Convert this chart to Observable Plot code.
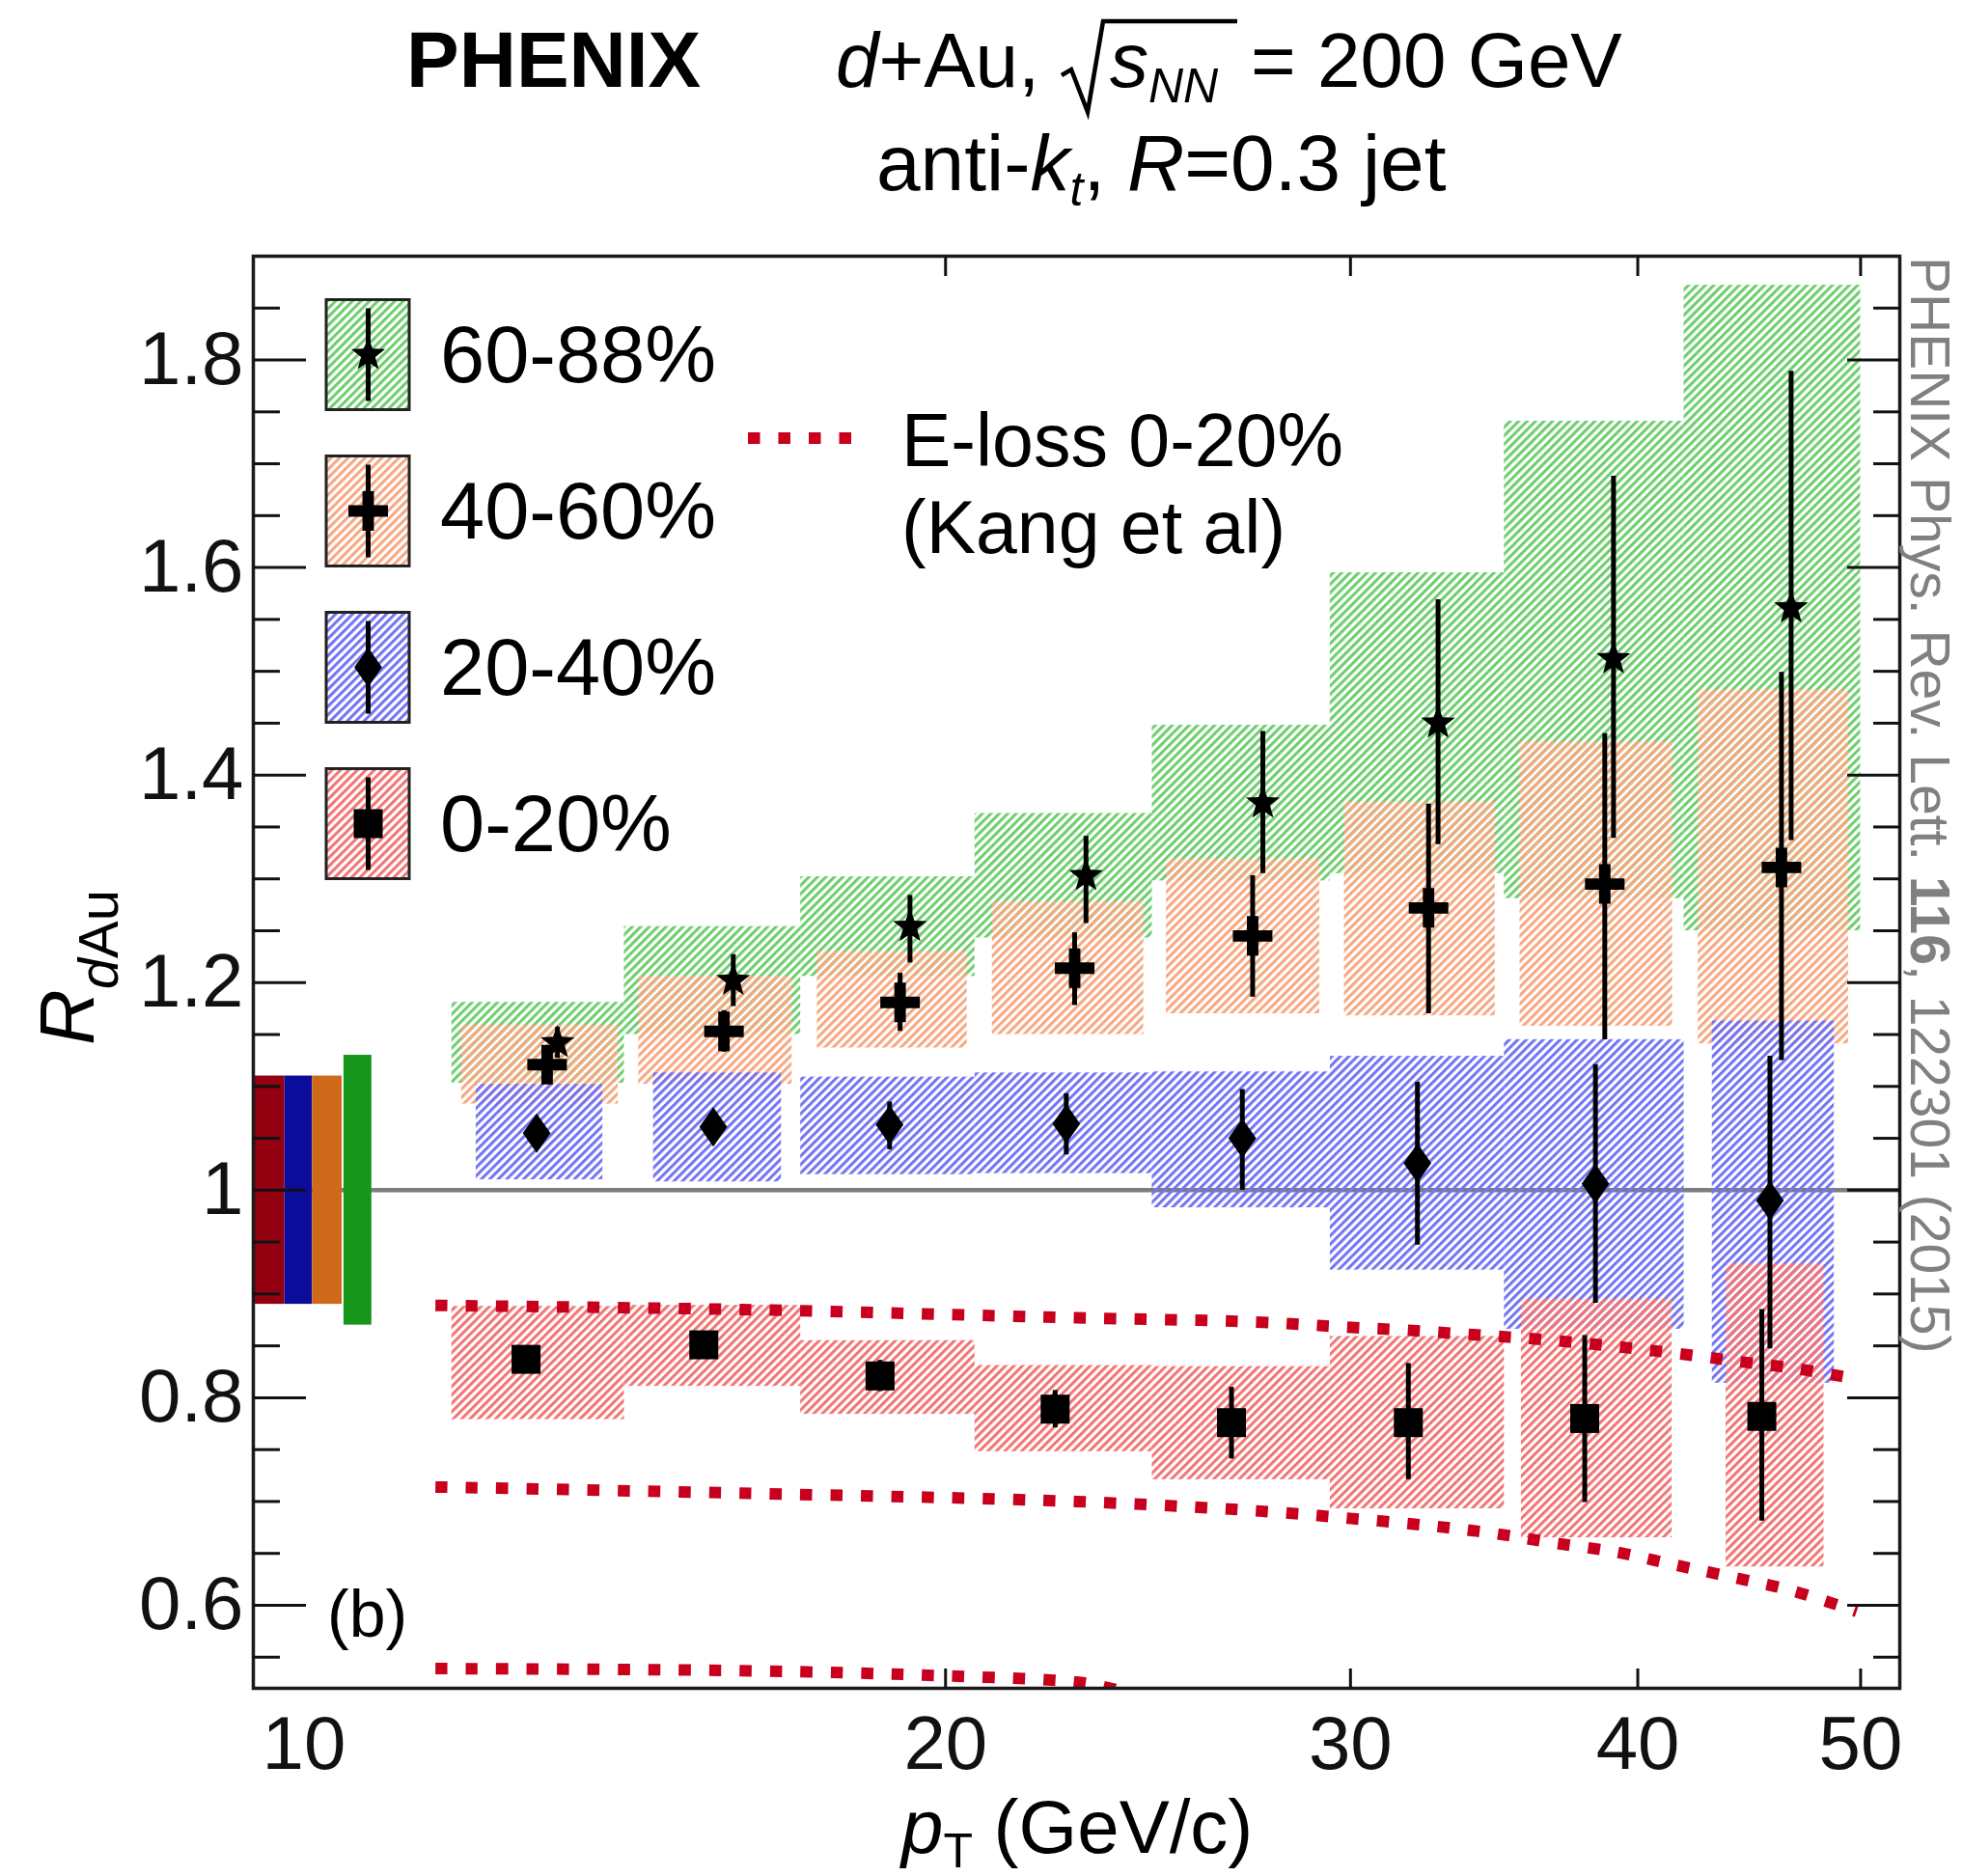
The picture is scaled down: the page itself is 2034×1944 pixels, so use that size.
<!DOCTYPE html>
<html><head><meta charset="utf-8">
<script src="https://cdn.jsdelivr.net/npm/d3@7"></script>
<script src="https://cdn.jsdelivr.net/npm/@observablehq/plot@0.6"></script>
<style>
html,body{margin:0;padding:0;background:#fff;}
#chart{position:relative;width:2034px;height:1944px;}
svg{display:block;}
</style></head><body><div id="chart"></div>
<script>
// ---------------- DATA ----------------
const ptEdges = [12.2, 14.5, 17.3, 20.6, 24.6, 29.4, 35.0, 41.9, 50.0];

// 0-20% (squares)
const c0020_pt     = [13.14, 15.70, 18.73, 22.32, 26.63, 31.79, 37.93, 45.29];
const c0020_R      = [0.837, 0.851, 0.821, 0.789, 0.776, 0.776, 0.780, 0.782];
const c0020_statLo = [0.828, 0.842, 0.806, 0.771, 0.741, 0.721, 0.699, 0.681];
const c0020_statHi = [0.846, 0.860, 0.836, 0.807, 0.810, 0.833, 0.860, 0.885];
const c0020_sysLo  = [0.779, 0.811, 0.784, 0.748, 0.721, 0.693, 0.665, 0.637];
const c0020_sysHi  = [0.888, 0.889, 0.855, 0.831, 0.830, 0.859, 0.895, 0.929];
const c0020_boxLo  = [12.2, 14.5, 17.3, 20.6, 24.6, 29.4, 35.6, 43.7];
const c0020_boxHi  = [14.5, 17.3, 20.6, 24.6, 29.4, 35.0, 41.4, 48.2];

// 20-40% (diamonds)
const c2040_pt     = [13.28, 15.85, 18.91, 22.57, 26.92, 32.08, 38.34, 45.66];
const c2040_R      = [1.055, 1.061, 1.063, 1.064, 1.050, 1.026, 1.006, 0.990];
const c2040_statLo = [1.046, 1.052, 1.039, 1.034, 1.000, 0.947, 0.891, 0.847];
const c2040_statHi = [1.064, 1.070, 1.085, 1.093, 1.097, 1.104, 1.121, 1.129];
const c2040_sysLo  = [1.010, 1.008, 1.015, 1.016, 0.983, 0.923, 0.866, 0.814];
const c2040_sysHi  = [1.102, 1.113, 1.109, 1.113, 1.114, 1.129, 1.145, 1.163];
const c2040_boxLo  = [12.5, 14.93, 17.3, 20.6, 24.6, 29.4, 35.0, 43.1];
const c2040_boxHi  = [14.19, 16.97, 20.6, 24.6, 29.4, 35.0, 41.9, 48.7];

// 40-60% (crosses)
const c4060_pt     = [13.42, 16.02, 19.11, 22.76, 27.20, 32.44, 38.70, 46.19];
const c4060_R      = [1.121, 1.153, 1.181, 1.214, 1.245, 1.272, 1.295, 1.311];
const c4060_statLo = [1.106, 1.133, 1.153, 1.178, 1.186, 1.170, 1.145, 1.125];
const c4060_statHi = [1.136, 1.173, 1.209, 1.248, 1.303, 1.372, 1.440, 1.499];
const c4060_sysLo  = [1.083, 1.102, 1.137, 1.150, 1.170, 1.168, 1.158, 1.141];
const c4060_sysHi  = [1.159, 1.206, 1.230, 1.278, 1.319, 1.374, 1.432, 1.482];
const c4060_boxLo  = [12.32, 14.71, 17.59, 20.96, 24.95, 29.82, 35.55, 42.5];
const c4060_boxHi  = [14.41, 17.15, 20.44, 24.39, 29.09, 34.68, 41.42, 49.4];

// 60-88% (stars)
const c6088_pt     = [13.56, 16.17, 19.30, 23.02, 27.48, 32.75, 39.04, 46.64];
const c6088_R      = [1.142, 1.202, 1.254, 1.303, 1.373, 1.450, 1.512, 1.561];
const c6088_statLo = [1.127, 1.177, 1.219, 1.257, 1.305, 1.333, 1.339, 1.337];
const c6088_statHi = [1.157, 1.227, 1.284, 1.341, 1.442, 1.569, 1.688, 1.789];
const c6088_sysLo  = [1.103, 1.150, 1.206, 1.243, 1.298, 1.305, 1.281, 1.250];
const c6088_sysHi  = [1.181, 1.254, 1.302, 1.363, 1.448, 1.595, 1.741, 1.872];
const c6088_boxLo  = [12.2, 14.5, 17.3, 20.6, 24.6, 29.4, 35.0, 41.9];
const c6088_boxHi  = [14.5, 17.3, 20.6, 24.6, 29.4, 35.0, 41.9, 50.0];

// global normalization uncertainty boxes (0-20, 20-40, 40-60, 60-88)
const normLo    = [10.00, 10.32, 10.61, 10.95];
const normHi    = [10.32, 10.61, 10.93, 11.26];
const normHalf  = [0.110, 0.110, 0.110, 0.130];
const normColor = ["#930010", "#0c0c9a", "#cf6a1c", "#16961a"];

// E-loss 0-20% (Kang et al) curves
const eloss1_pt = [12.0, 16.3, 22.8, 27.3, 29.9, 31.8, 33.8, 35.9, 38.1, 40.4, 42.9, 44.2, 46.9, 49.8];
const eloss1_R  = [0.889, 0.885, 0.877, 0.873, 0.868, 0.865, 0.861, 0.857, 0.852, 0.846, 0.839, 0.835, 0.828, 0.818];
const eloss2_pt = [12.0, 16.3, 22.8, 27.3, 29.9, 32.7, 34.7, 36.8, 39.2, 41.5, 44.0, 46.7, 49.8];
const eloss2_R  = [0.714, 0.708, 0.700, 0.691, 0.684, 0.676, 0.669, 0.660, 0.651, 0.639, 0.627, 0.614, 0.594];
const eloss3_pt = [12.0, 16.3, 20.0, 22.8, 23.6, 24.5];
const eloss3_R  = [0.539, 0.537, 0.532, 0.526, 0.520, 0.510];

// axis ticks
const yMajor = [0.6, 0.8, 1.0, 1.2, 1.4, 1.6, 1.8];
const yMinor = [0.55, 0.65, 0.7, 0.75, 0.85, 0.9, 0.95, 1.05, 1.1, 1.15, 1.25, 1.3, 1.35, 1.45, 1.5, 1.55, 1.65, 1.7, 1.75, 1.85];
const xMajor = [20, 30, 40, 50];
const xFirstLabel = [10];

const legendLabels = ["60-88%", "40-60%", "20-40%", "0-20%"];

// ---------------- STYLE ----------------
const hatchColor = {c0020: "#f37272", c2040: "#7272f4", c4060: "#f7a67e", c6088: "#6ccd6c"};
const elossColor = "#c8001e";
const DASH = "12.5,19";

const symSquare = {draw(c, size) { const r = Math.sqrt(size / Math.PI); c.rect(-r, -r, 2 * r, 2 * r); }};
const symDiamond = {draw(c, size) { const r = Math.sqrt(size / Math.PI), w = 0.7 * r;
  c.moveTo(0, -r); c.lineTo(w, 0); c.lineTo(0, r); c.lineTo(-w, 0); c.closePath(); }};
const symCross = {draw(c, size) { const r = Math.sqrt(size / Math.PI), t = 0.29 * r;
  c.moveTo(-t, -r); c.lineTo(t, -r); c.lineTo(t, -t); c.lineTo(r, -t); c.lineTo(r, t); c.lineTo(t, t);
  c.lineTo(t, r); c.lineTo(-t, r); c.lineTo(-t, t); c.lineTo(-r, t); c.lineTo(-r, -t); c.lineTo(-t, -t); c.closePath(); }};
const symStar = {draw(c, size) { const R = Math.sqrt(size / Math.PI), ri = R * 0.42;
  for (let i = 0; i < 10; i++) { const a = -Math.PI / 2 + i * Math.PI / 5, rr = i % 2 ? ri : R;
    const x = rr * Math.cos(a), y = rr * Math.sin(a); if (i) c.lineTo(x, y); else c.moveTo(x, y); }
  c.closePath(); }};

function rows(pt, R, sLo, sHi, yLo, yHi, bLo, bHi) {
  return pt.map((x, i) => ({x, R: R[i], statLo: sLo[i], statHi: sHi[i], sysLo: yLo[i], sysHi: yHi[i], bx1: bLo[i], bx2: bHi[i]}));
}
const series = [
  {key: "c6088", sym: symStar, r: 18.5, data: rows(c6088_pt, c6088_R, c6088_statLo, c6088_statHi, c6088_sysLo, c6088_sysHi, c6088_boxLo, c6088_boxHi)},
  {key: "c4060", sym: symCross, r: 20.5, data: rows(c4060_pt, c4060_R, c4060_statLo, c4060_statHi, c4060_sysLo, c4060_sysHi, c4060_boxLo, c4060_boxHi)},
  {key: "c2040", sym: symDiamond, r: 20.5, data: rows(c2040_pt, c2040_R, c2040_statLo, c2040_statHi, c2040_sysLo, c2040_sysHi, c2040_boxLo, c2040_boxHi)},
  {key: "c0020", sym: symSquare, r: 15, data: rows(c0020_pt, c0020_R, c0020_statLo, c0020_statHi, c0020_sysLo, c0020_sysHi, c0020_boxLo, c0020_boxHi)}
];
const normRows = normLo.map((lo, i) => ({x1: lo, x2: normHi[i], y1: 1 - normHalf[i], y2: 1 + normHalf[i], color: normColor[i]}));
const curve = (pt, R) => pt.map((p, i) => ({pt: p, R: R[i]}));

const FONT = "'Liberation Sans', Arial, Helvetica, sans-serif";
const fmtY = d => String(Math.round(d * 10) / 10);
const tickStyle = {strokeWidth: 3, tickFormat: () => "", label: null};
const lineStyle = {x: "pt", y: "R", stroke: elossColor, strokeWidth: 12, strokeDasharray: DASH, strokeLinecap: "butt", curve: "catmull-rom", clip: true};

const plot = Plot.plot({
  width: 2034, height: 1944,
  marginLeft: 262, marginRight: 66, marginTop: 265, marginBottom: 195,
  style: {fontFamily: FONT, background: "#fff", color: "#111", overflow: "visible"},
  x: {type: "log", domain: [10, 52]},
  y: {domain: [0.52, 1.90]},
  color: {type: "identity"},
  marks: [
    Plot.ruleY([1], {stroke: "#7d7d7d", strokeWidth: 4.5}),
    ...series.map(s => Plot.rect(s.data, {x1: "bx1", x2: "bx2", y1: "sysLo", y2: "sysHi", fill: `url(#hatch-${s.key})`})),
    Plot.rect(normRows, {x1: "x1", x2: "x2", y1: "y1", y2: "y2", fill: "color"}),
    Plot.line(curve(eloss1_pt, eloss1_R), lineStyle),
    Plot.line(curve(eloss2_pt, eloss2_R), lineStyle),
    Plot.line(curve(eloss3_pt, eloss3_R), lineStyle),
    ...series.map(s => Plot.ruleX(s.data, {x: "x", y1: "statLo", y2: "statHi", stroke: "#000", strokeWidth: 5})),
    ...series.map(s => Plot.dot(s.data, {x: "x", y: "R", symbol: s.sym, r: s.r, fill: "#000", stroke: "none"})),
    Plot.frame({stroke: "#1a1a1a", strokeWidth: 3.5}),
    Plot.axisY(yMajor, {anchor: "left", tickSize: -55, ...tickStyle}),
    Plot.axisY(yMinor, {anchor: "left", tickSize: -28, ...tickStyle}),
    Plot.axisY(yMajor, {anchor: "right", tickSize: -55, ...tickStyle}),
    Plot.axisY(yMinor, {anchor: "right", tickSize: -28, ...tickStyle}),
    Plot.axisX(xMajor, {anchor: "bottom", tickSize: -20, ...tickStyle}),
    Plot.axisX(xMajor, {anchor: "top", tickSize: -20, ...tickStyle}),
    Plot.axisY(yMajor, {anchor: "left", tickSize: 0, tickPadding: 10, fontSize: 78, tickFormat: fmtY, label: null}),
    Plot.axisX(xMajor, {anchor: "bottom", tickSize: 0, tickPadding: 28, fontSize: 78, tickFormat: d => String(d), label: null}),
    Plot.text(xFirstLabel, {x: d => d, text: d => String(d), frameAnchor: "bottom", textAnchor: "start", lineAnchor: "top", dy: 28, dx: 9, fontSize: 78})
  ]
});
document.getElementById("chart").appendChild(plot);

// ---------------- decorations (patterns, texts, legend) ----------------
const svg = d3.select(plot);
const defs = svg.insert("defs", ":first-child");
for (const [key, col] of Object.entries(hatchColor)) {
  const p = defs.append("pattern").attr("id", "hatch-" + key).attr("patternUnits", "userSpaceOnUse")
    .attr("width", 6.2).attr("height", 6.2).attr("patternTransform", "rotate(45)");
  p.append("rect").attr("x", 0).attr("y", 0).attr("width", 3.0).attr("height", 6.2).attr("fill", col);
}
const g = svg.append("g").attr("font-family", FONT).attr("fill", "#000").attr("text-anchor", "start");

function addText(x, y, parts, attrs = {}) {
  const t = g.append("text").attr("x", x).attr("y", y).attr("text-anchor", "start");
  for (const [k, v] of Object.entries(attrs)) t.attr(k, v);
  for (const p of parts) {
    const s = t.append("tspan").text(p.t);
    if (p.it) s.attr("font-style", "italic");
    if (p.b) s.attr("font-weight", "bold");
    if (p.fs) s.attr("font-size", p.fs);
    if (p.dy) s.attr("dy", p.dy);
    if (p.dx) s.attr("dx", p.dx);
  }
  return t;
}
// title
addText(421, 90, [{t: "PHENIX", b: true}], {"font-size": 82});
addText(866, 90, [{t: "d", it: true}, {t: "+Au,"}], {"font-size": 80});
// radical
g.append("path").attr("d", "M1100,78 L1110,72 L1127,116 L1143,22 L1282,22").attr("fill", "none").attr("stroke", "#000").attr("stroke-width", 4.5);
addText(1150, 90, [{t: "s", it: true}, {t: "NN", it: true, fs: 50, dy: 16}], {"font-size": 80});
addText(1296, 90, [{t: "= 200 GeV"}], {"font-size": 80});
addText(908, 197, [{t: "anti-"}, {t: "k", it: true}, {t: "t", it: true, fs: 50, dy: 16}, {t: ", ", dy: -16}, {t: "R", it: true}, {t: "=0.3 jet"}], {"font-size": 82});

// axis titles
addText(934, 1920, [{t: "p", it: true}, {t: "T", fs: 50, dy: 15}, {t: " (GeV/c)", dy: -15}], {"font-size": 78});
addText(0, 0, [{t: "R", it: true}, {t: "d", it: true, fs: 58, dy: 25}, {t: "Au", fs: 58}], {"font-size": 80, transform: "translate(97,1083) rotate(-90)"});

// (b)
addText(339, 1696, [{t: "(b)"}], {"font-size": 68});

// right side reference
addText(0, 0, [{t: "PHENIX Phys. Rev. Lett. "}, {t: "116", b: true}, {t: ", 122301 (2015)"}], {"font-size": 57, fill: "#808080", transform: "translate(1980,266) rotate(90)"});

// legend (centralities)
const legSyms = [symStar, symCross, symDiamond, symSquare];
const legR = [18.5, 20.5, 20.5, 15];
const legKeys = ["c6088", "c4060", "c2040", "c0020"];
legendLabels.forEach((lab, i) => {
  const top = 310.5 + i * 162;
  g.append("rect").attr("x", 338).attr("y", top).attr("width", 86).attr("height", 114)
    .attr("fill", `url(#hatch-${legKeys[i]})`).attr("stroke", "#222").attr("stroke-width", 3);
  g.append("line").attr("x1", 381.5).attr("x2", 381.5).attr("y1", top + 9).attr("y2", top + 105).attr("stroke", "#000").attr("stroke-width", 5);
  const path = d3.path(); legSyms[i].draw(path, legR[i] * legR[i] * Math.PI);
  g.append("path").attr("d", path.toString()).attr("transform", `translate(381.5,${top + 57})`).attr("fill", "#000");
  addText(456, top + 85, [{t: lab}], {"font-size": 83});
});
// legend (E-loss)
g.append("line").attr("x1", 775).attr("x2", 887).attr("y1", 454).attr("y2", 454)
  .attr("stroke", elossColor).attr("stroke-width", 12).attr("stroke-dasharray", DASH);
addText(934, 483, [{t: "E-loss 0-20%"}], {"font-size": 77});
addText(934, 573, [{t: "(Kang et al)"}], {"font-size": 77});
</script></body></html>
